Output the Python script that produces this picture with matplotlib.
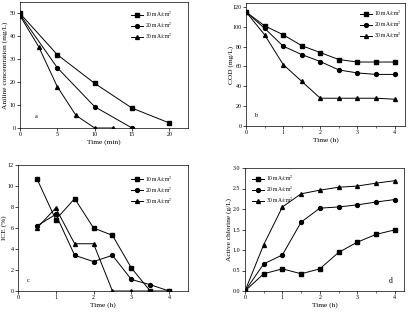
import matplotlib
matplotlib.use("Agg")
import matplotlib.pyplot as plt
from matplotlib.ticker import MultipleLocator, FormatStrFormatter

plt.rcParams['font.family'] = ['Liberation Serif', 'DejaVu Serif']
plt.rcParams['mathtext.fontset'] = 'stix'

labels = ["10 mA/cm$^2$", "20 mA/cm$^2$", "30 mA/cm$^2$"]
markers = ["s", "o", "^"]

# Panel a: aniline concentration
a_t10 = [0, 5, 10, 15, 20]
a_y10 = [50, 32, 19.5, 8.7, 2.2]
a_t20 = [0, 5, 10, 15]
a_y20 = [49.5, 26.3, 9.3, 0]
a_t30 = [0, 2.5, 5, 7.5, 10, 12.5]
a_y30 = [49, 35.5, 18, 5.5, 0, 0]

# Panel b: COD
b_t = [0, 0.5, 1, 1.5, 2, 2.5, 3, 3.5, 4]
b_y10 = [115, 101, 92, 81, 74, 67, 64.5, 64.5, 64.5]
b_y20 = [115, 98.5, 80.5, 72, 65, 56.5, 53.5, 52, 52]
b_y30 = [115, 92, 62, 45, 28, 28, 28, 28, 27]

# Panel c: ICE
c_t = [0.5, 1, 1.5, 2, 2.5, 3, 3.5, 4]
c_y10 = [10.7, 6.8, 8.8, 6.0, 5.3, 2.2, 0, 0]
c_y20 = [6.2, 7.3, 3.4, 2.8, 3.4, 1.1, 0.6, 0]
c_t30 = [0.5, 1, 1.5, 2, 2.5, 3, 3.5]
c_y30 = [6.0, 7.9, 4.5, 4.5, 0, 0, 0]

# Panel d: active chlorine
d_t = [0, 0.5, 1, 1.5, 2, 2.5, 3, 3.5, 4]
d_y10 = [0, 0.42, 0.54, 0.42, 0.54, 0.94, 1.19, 1.38, 1.49]
d_y20 = [0, 0.66, 0.88, 1.68, 2.02, 2.05, 2.10, 2.17, 2.23]
d_y30 = [0, 1.13, 2.05, 2.37, 2.46, 2.53, 2.56, 2.63, 2.69]

W, H = 414, 316
fig = plt.figure(figsize=(W / 100, H / 100), dpi=100)

def px_axes(l, t, r, b):
    return fig.add_axes([l / W, 1 - b / H, (r - l) / W, (b - t) / H])

def style(ax):
    ax.tick_params(direction='out', length=2, width=0.5, labelsize=4.3, pad=1.2)
    ax.tick_params(which='minor', direction='out', length=1.2, width=0.4)
    for s in ax.spines.values():
        s.set_linewidth(0.5)

def plot_series(ax, xs, ys):
    for (x, y), m, lab in zip(zip(xs, ys), markers, labels):
        ax.plot(x, y, color='black', marker=m, markersize=2.8, linewidth=0.7, label=lab)

def ylabel_at(ax, text, right_px, left_px, width_px):
    ax.set_ylabel(text, fontsize=5.3)
    ax.yaxis.set_label_coords((right_px - left_px) / width_px, 0.5)

leg_kw = dict(fontsize=4, frameon=False, handlelength=2.2, labelspacing=0.25,
              borderpad=0.2, handletextpad=0.3)

# a
ax = px_axes(20, 2, 188, 128)
plot_series(ax, [a_t10, a_t20, a_t30], [a_y10, a_y20, a_y30])
ax.set_xlim(0, 22.5)
ax.set_ylim(0, 55)
ax.xaxis.set_major_locator(MultipleLocator(5))
ax.yaxis.set_major_locator(MultipleLocator(10))
ax.set_xlabel("Time (min)", fontsize=5.3, labelpad=1.5)
ylabel_at(ax, "Aniline concentration (mg/L)", 8.5, 20, 168)
ax.text(2, 4.5, "a", fontsize=4.5)
ax.legend(loc='upper right', bbox_to_anchor=(0.93, 0.97), **leg_kw)
style(ax)

# b
ax = px_axes(246, 3, 405, 126)
plot_series(ax, [b_t, b_t, b_t], [b_y10, b_y20, b_y30])
ax.set_xlim(0, 4.28)
ax.set_ylim(0, 124)
ax.xaxis.set_major_locator(MultipleLocator(1))
ax.xaxis.set_minor_locator(MultipleLocator(0.5))
ax.yaxis.set_major_locator(MultipleLocator(20))
ax.set_xlabel("Time (h)", fontsize=5.3, labelpad=1.5)
ylabel_at(ax, "COD (mg/L)", 234, 246, 159)
ax.text(0.22, 9, "b", fontsize=4.5)
ax.legend(loc='upper right', bbox_to_anchor=(1.0, 0.99), **leg_kw)
style(ax)

# c
ax = px_axes(18, 165, 188, 291)
plot_series(ax, [c_t, c_t, c_t30], [c_y10, c_y20, c_y30])
ax.set_xlim(0, 4.5)
ax.set_ylim(0, 12)
ax.xaxis.set_major_locator(MultipleLocator(1))
ax.yaxis.set_major_locator(MultipleLocator(2))
ax.set_xlabel("Time (h)", fontsize=5.3, labelpad=1.5)
ylabel_at(ax, "ICE (%)", 7, 18, 170)
ax.text(0.22, 0.9, "c", fontsize=4.5)
ax.legend(loc='upper right', bbox_to_anchor=(0.93, 0.96), **leg_kw)
style(ax)

# d
ax = px_axes(245, 168, 404, 291)
plot_series(ax, [d_t, d_t, d_t], [d_y10, d_y20, d_y30])
ax.set_xlim(0, 4.25)
ax.set_ylim(0, 3.0)
ax.xaxis.set_major_locator(MultipleLocator(1))
ax.xaxis.set_minor_locator(MultipleLocator(0.5))
ax.yaxis.set_major_locator(MultipleLocator(0.5))
ax.yaxis.set_major_formatter(FormatStrFormatter('%.1f'))
ax.set_xlabel("Time (h)", fontsize=5.3, labelpad=1.5)
ylabel_at(ax, "Active chlorine (g/L)", 232, 245, 159)
ax.text(3.83, 0.2, "d", fontsize=5.5)
ax.legend(loc='upper left', bbox_to_anchor=(0.02, 0.99), **leg_kw)
style(ax)

fig.savefig("out.png", dpi=100)
